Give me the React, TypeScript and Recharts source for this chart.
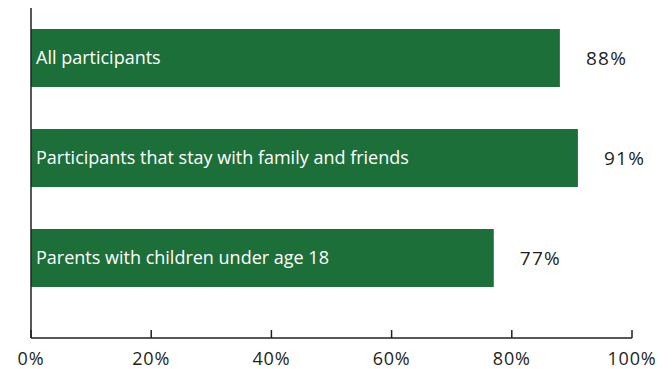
import { BarChart, Bar, XAxis, YAxis, LabelList } from 'recharts';

const categories = [
  'All participants',
  'Participants that stay with family and friends',
  'Parents with children under age 18',
];
const values = [88, 91, 77];
const xTicks = [0, 20, 40, 60, 80, 100];

const chartData = categories.map((name, i) => ({ name, value: values[i] }));

const FONT = '"Open Sans", sans-serif';
const INK = '#231f20';

// ticks point up into the plot, labels sit below the axis
const XTick = ({ x, y, payload }: any) => (
  <g>
    <line x1={x} y1={y - 8} x2={x} y2={y} stroke={INK} strokeWidth={1.5} />
    <text x={x} y={y + 27} textAnchor="middle" fontSize={18} letterSpacing={0.8} fill={INK} fontFamily={FONT}>
      {payload.value}%
    </text>
  </g>
);

const InsideLabel = ({ x, y, height, value }: any) => (
  <text x={x + 5} y={y + height / 2} dy={6} fontSize={18} fill="#ffffff" fontFamily={FONT}>
    {value}
  </text>
);

const ValueLabel = ({ x, y, width, height, value }: any) => (
  <text x={x + width + 26} y={y + height / 2} dy={7} fontSize={19} letterSpacing={1.3} fill={INK} fontFamily={FONT}>
    {value}%
  </text>
);

export default function App() {
  return (
    <div style={{ position: 'absolute', left: 0, top: 0, background: '#fff' }}>
      <BarChart
        width={672}
        height={369}
        data={chartData}
        layout="vertical"
        margin={{ top: 8, right: 40, bottom: 1, left: 30 }}
      >
        <XAxis
          type="number"
          domain={[0, 100]}
          ticks={xTicks}
          tick={<XTick />}
          tickLine={false}
          tickSize={0}
          tickMargin={0}
          height={30}
          axisLine={{ stroke: INK, strokeWidth: 1.5 }}
          interval={0}
        />
        <YAxis
          type="category"
          dataKey="name"
          width={1}
          tick={false}
          tickLine={false}
          padding={{ top: 0, bottom: 30 }}
          axisLine={{ stroke: INK, strokeWidth: 1.5 }}
        />
        <Bar dataKey="value" fill="#1d6f3a" barSize={58} isAnimationActive={false}>
          <LabelList dataKey="name" content={<InsideLabel />} />
          <LabelList dataKey="value" content={<ValueLabel />} />
        </Bar>
      </BarChart>
    </div>
  );
}
